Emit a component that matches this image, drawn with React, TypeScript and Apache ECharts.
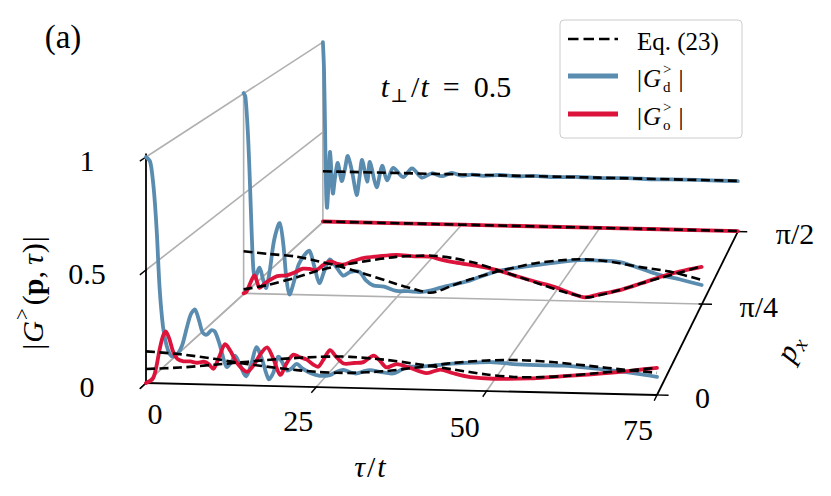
import React, { useEffect, useRef } from "react";
import * as echarts from "echarts";

// ---------- ticks ----------
const TAU_TICKS = [0, 25, 50, 75];
const TAU_TICK_LABELS = ["0", "25", "50", "75"];
const G_TICKS = [0, 0.5, 1];
const G_TICK_LABELS = ["0", "0.5", "1"];
const P_TICKS = [0, Math.PI / 4, Math.PI / 2];
const P_TICK_LABELS = ["0", "π/4", "π/2"];

// ---------- slices (p_x values) ----------
const P_FRONT = 0;
const P_MID = Math.PI / 4;
const P_BACK = Math.PI / 2;

// ---------- data: [tau/t, |G|] ----------
const FRONT_D = [
  [0, 1], [0.6, 0.98], [1, 0.9], [1.3, 0.8], [1.6, 0.66], [2, 0.42], [2.5, 0.25], [3, 0.17],
  [3.5, 0.13], [4, 0.12], [4.6, 0.13], [5.3, 0.17], [6, 0.25], [6.6, 0.31], [7.2, 0.33],
  [7.8, 0.28], [8.3, 0.23], [8.9, 0.22], [9.6, 0.24], [10.1, 0.235], [10.8, 0.18], [11.8, 0.08],
  [12.5, 0.1], [13.1, 0.13], [13.8, 0.09], [14.7, 0.04], [15.5, 0.1], [16.2, 0.17], [17, 0.12],
  [18, 0.03], [18.7, 0.06], [19.4, 0.13], [20.1, 0.1], [20.7, 0.07], [21.4, 0.08], [22.1, 0.1],
  [23, 0.08], [24.2, 0.06], [25.5, 0.05], [27, 0.054], [28, 0.07], [29, 0.078], [30, 0.068],
  [30.9, 0.064], [32, 0.075], [32.9, 0.08], [34.3, 0.074], [36.3, 0.068], [38.3, 0.098],
  [40, 0.1], [41.7, 0.105], [44.1, 0.115], [48, 0.124], [51, 0.128], [53.9, 0.122],
  [57.5, 0.12], [61.3, 0.12], [65, 0.113], [68.6, 0.103], [72, 0.092], [75, 0.08],
];
const FRONT_O = [
  [0, 0], [1, 0.02], [1.5, 0.07], [2, 0.15], [2.5, 0.21], [2.9, 0.23], [3.4, 0.2], [4, 0.14],
  [4.6, 0.11], [5.5, 0.1], [6.5, 0.1], [7.5, 0.095], [8.5, 0.1], [9.2, 0.09], [9.9, 0.07],
  [10.7, 0.12], [11.6, 0.18], [12.4, 0.15], [13.3, 0.1], [14.8, 0.06], [15.8, 0.09],
  [16.8, 0.14], [17.8, 0.17], [18.7, 0.12], [19.7, 0.05], [20.6, 0.1], [21.6, 0.14],
  [22.6, 0.13], [23.6, 0.12], [24.5, 0.1], [25.3, 0.09], [26.2, 0.13], [27, 0.165],
  [27.8, 0.14], [29, 0.107], [30.5, 0.11], [31.9, 0.115], [33.4, 0.145], [34.4, 0.12],
  [35.3, 0.094], [36.8, 0.11], [38.7, 0.095], [41.2, 0.073], [43.2, 0.09], [45.1, 0.075],
  [47.6, 0.06], [51, 0.055], [56.4, 0.06], [60, 0.07], [63.7, 0.08], [67, 0.09], [70, 0.1],
  [72.5, 0.11], [75, 0.12],
];
const FRONT_FIT_D = [
  [0, 0.14], [5, 0.131], [10, 0.114], [15, 0.094], [20, 0.078], [25, 0.067], [28, 0.065],
  [30, 0.066], [35, 0.077], [40, 0.098], [45, 0.12], [50, 0.135], [55, 0.14], [60, 0.134],
  [65, 0.122], [70, 0.109], [75, 0.098],
];
const FRONT_FIT_O = [
  [0, 0.062], [5, 0.072], [10, 0.088], [15, 0.105], [20, 0.121], [25, 0.133], [28, 0.137],
  [30, 0.137], [35, 0.128], [40, 0.111], [45, 0.092], [50, 0.073], [54, 0.065], [58, 0.067],
  [62, 0.076], [66, 0.09], [70, 0.103], [75, 0.12],
];

const MID_D = [
  [0, 1], [0.3, 0.98], [0.7, 0.8], [1, 0.58], [1.3, 0.32], [1.6, 0.12], [1.9, 0.08], [2.6, 0.13],
  [3.2, 0.07], [3.7, 0.03], [4.3, 0.12], [5, 0.27], [5.9, 0.355], [6.5, 0.25], [7, 0.08],
  [7.5, 0], [8.2, 0.06], [9, 0.15], [10, 0.2], [10.8, 0.22], [11.6, 0.14], [12.4, 0.06],
  [13.2, 0.12], [14.1, 0.18], [15, 0.15], [16.3, 0.1], [17.5, 0.12], [19, 0.12], [20, 0.08],
  [21.2, 0.055], [23, 0.05], [25, 0.03], [27, 0.03], [28.9, 0.027], [30.5, 0.035],
  [32.1, 0.05], [34.5, 0.07], [37, 0.09], [41.5, 0.14], [46.9, 0.17], [50, 0.185], [55, 0.205],
  [58, 0.205], [61.6, 0.2], [65, 0.17], [68.2, 0.14], [71.5, 0.12], [75, 0.095],
];
const MID_O = [
  [0, 0], [0.5, 0.01], [1.2, 0.06], [1.8, 0.09], [2.6, 0.03], [3.4, 0.05], [4.3, 0.07],
  [5.5, 0.09], [7, 0.095], [8.3, 0.11], [9.7, 0.13], [10.8, 0.13], [11.9, 0.125], [13, 0.15],
  [14.1, 0.17], [15.2, 0.16], [16.3, 0.155], [18, 0.175], [19.6, 0.19], [22, 0.2], [25, 0.21],
  [28, 0.205], [30.5, 0.205], [32.5, 0.19], [34.3, 0.18], [38, 0.165], [41.5, 0.145],
  [45, 0.115], [48, 0.09], [50.7, 0.07], [53.5, 0.04], [55.9, 0.02], [58, 0.035], [61.6, 0.06],
  [65, 0.095], [68.2, 0.13], [71.5, 0.16], [75, 0.185],
];
const MID_FIT_D = [
  [0, 0.21], [4, 0.2], [8.6, 0.19], [12, 0.17], [15.5, 0.148], [20, 0.11], [25, 0.065],
  [28, 0.04], [30.5, 0.025], [32, 0.035], [34.3, 0.065], [37, 0.095], [41.5, 0.138],
  [45, 0.165], [48, 0.186], [52, 0.202], [55, 0.209], [58, 0.207], [61.6, 0.194], [65, 0.177],
  [69.8, 0.158], [75, 0.12],
];
const MID_FIT_O = [
  [0, 0.02], [4, 0.045], [8.6, 0.085], [12, 0.12], [15.5, 0.148], [20, 0.175], [25, 0.2],
  [28.9, 0.208], [31, 0.21], [34.3, 0.2], [38, 0.178], [41.5, 0.146], [45, 0.115], [49, 0.076],
  [53, 0.04], [56.2, 0.02], [58, 0.03], [61.6, 0.06], [65, 0.095], [68.2, 0.125],
  [71.5, 0.155], [75, 0.188],
];

const BACK_D = [
  [0, 1], [0.2, 0.85], [0.4, 0.5], [0.6, 0.15], [0.75, 0.08], [1, 0.2], [1.3, 0.39],
  [1.8, 0.16], [2.2, 0.25], [2.7, 0.33], [3.4, 0.23], [4, 0.3], [4.5, 0.37], [5.3, 0.28],
  [6.1, 0.155], [6.6, 0.25], [7.1, 0.35], [8, 0.23], [8.5, 0.34], [9.7, 0.2], [10.7, 0.32],
  [11.6, 0.24], [12.7, 0.31], [14.5, 0.26], [16.1, 0.31], [17.9, 0.26], [19.7, 0.285],
  [21.5, 0.27], [23.3, 0.29], [25, 0.276], [27, 0.283], [29, 0.277], [32, 0.284], [35, 0.279],
  [38, 0.284], [42, 0.279], [46, 0.283], [50, 0.28], [55, 0.283], [60, 0.28], [65, 0.282],
  [70, 0.281], [75, 0.28],
];
const BACK_O = [[0, 0.003], [25, 0.003], [50, 0.003], [75, 0.003]];
const BACK_FIT_D = [[0, 0.282], [25, 0.282], [50, 0.282], [75, 0.282]];
const BACK_FIT_O = [[0, 0.003], [25, 0.003], [50, 0.003], [75, 0.003]];

// ---------- styles / layout ----------
const FONT = '"Liberation Serif", "DejaVu Serif", serif';
const BLUE = "#5a8cb0";
const RED = "#dc143c";
const GRAY = "#b0b0b0";
const GRID = { left: 146, top: 157, width: 511, height: 226 };
const TILT = 12 / 511;
const VPX = 1087;
const VPY = -406;
const KX = 0.2315;
const KY = 0.2563;
const P_MAX = Math.PI / 2;
const TAU_LABEL_DX = [9, -18, -22, -19];
const TAU_LABEL_DY = [30, 33, 35, 34];

function project(api: any, tau: number, g: number, p: number) {
  const c = api.coord([tau, g]);
  const u = p / P_MAX;
  const fx = c[0];
  const fy = c[1] + (c[0] - GRID.left) * TILT;
  const sx = 1 / (1 + KX * u);
  const sy = 1 / (1 + KY * u);
  return [VPX + (fx - VPX) * sx, VPY + (fy - VPY) * sy];
}

let measureCtx: any = null;
function measure(t: string, size: number, italic?: boolean, bold?: boolean) {
  if (!measureCtx && typeof document !== "undefined") {
    measureCtx = document.createElement("canvas").getContext("2d");
  }
  if (!measureCtx) return t.length * size * 0.5;
  measureCtx.font = `${italic ? "italic " : ""}${bold ? "bold " : ""}${size}px ${FONT}`;
  return measureCtx.measureText(t).width;
}

function textEl(t: string, x: number, y: number, size: number, opts: any = {}) {
  const align = opts.align || "left";
  return {
    type: "text",
    x,
    y,
    silent: true,
    style: {
      text: t,
      fill: "#000",
      fontSize: size,
      fontFamily: FONT,
      fontStyle: opts.italic ? "italic" : "normal",
      fontWeight: opts.bold ? "bold" : "normal",
      align,
      textAlign: align,
      verticalAlign: "middle",
      textVerticalAlign: "middle",
    },
  };
}

type Piece = { t?: string; s?: number; i?: boolean; b?: boolean; dy?: number; pre?: number; stack?: Piece[] };
function runChildren(pieces: Piece[], anchor: "center" | "left") {
  let x = 0;
  const items: any[] = [];
  for (const pc of pieces) {
    x += pc.pre || 0;
    if (pc.stack) {
      let w = 0;
      for (const s of pc.stack) {
        items.push({ ...s, x });
        w = Math.max(w, measure(s.t as string, s.s as number, s.i, s.b));
      }
      x += w;
    } else {
      items.push({ ...pc, x });
      x += measure(pc.t as string, pc.s as number, pc.i, pc.b);
    }
  }
  const off = anchor === "center" ? -x / 2 : 0;
  return items.map((it) => textEl(it.t, it.x + off, it.dy || 0, it.s, { italic: it.i, bold: it.b }));
}

function lineEl(a: number[], b: number[], stroke: string, lineWidth: number) {
  return {
    type: "line",
    silent: true,
    shape: { x1: a[0], y1: a[1], x2: b[0], y2: b[1] },
    style: { stroke, lineWidth, fill: null },
  };
}

function renderGrid(params: any, api: any) {
  const P = (t: number, g: number, p: number) => project(api, t, g, p);
  const ch: any[] = [];
  // wall at tau = 0
  P_TICKS.forEach((p) => { if (p > 0) ch.push(lineEl(P(0, 0, p), P(0, 1, p), GRAY, 1.6)); });
  G_TICKS.forEach((g) => ch.push(lineEl(P(0, g, 0), P(0, g, P_MAX), GRAY, 1.6)));
  // floor
  TAU_TICKS.forEach((t) => { if (t < 75) ch.push(lineEl(P(t, 0, 0), P(t, 0, P_MAX), GRAY, 1.6)); });
  P_TICKS.forEach((p) => { if (p > 0) ch.push(lineEl(P(0, 0, p), P(75, 0, p), GRAY, 1.6)); });
  return { type: "group", children: ch };
}

function renderAxes(params: any, api: any) {
  const P = (t: number, g: number, p: number) => project(api, t, g, p);
  const ch: any[] = [];
  ch.push(lineEl(P(0, 0, 0), P(0, 1.015, 0), "#000", 1.8));
  ch.push(lineEl(P(0, 0, 0), P(75, 0, 0), "#000", 1.8));
  ch.push(lineEl(P(75, 0, 0), P(75, 0, P_MAX), "#000", 1.8));
  G_TICKS.forEach((g, i) => {
    ch.push(lineEl(P(0, g, -0.028 * P_MAX), P(0, g, 0.004 * P_MAX), "#000", 1.4));
    const c = P(0, g, 0);
    ch.push(textEl(G_TICK_LABELS[i], c[0] - 59, c[1] + 3, 30, { align: "center" }));
  });
  TAU_TICKS.forEach((t, i) => {
    ch.push(lineEl(P(t, 0, -0.028 * P_MAX), P(t, 0, 0.004 * P_MAX), "#000", 1.4));
    const c = P(t, 0, 0);
    ch.push(textEl(TAU_TICK_LABELS[i], c[0] + TAU_LABEL_DX[i], c[1] + TAU_LABEL_DY[i], 30, { align: "center" }));
  });
  P_TICKS.forEach((p, i) => {
    ch.push(lineEl(P(74.5, 0, p), P(76.7, 0, p), "#000", 1.4));
    const c = P(75, 0, p);
    ch.push(textEl(P_TICK_LABELS[i], c[0] + 38, c[1] + 2, 30, { align: "left" }));
  });
  return { type: "group", children: ch };
}

function curveSeries(name: string, data: number[][], p: number, kind: "d" | "o" | "fit") {
  const style: any =
    kind === "fit"
      ? { stroke: "#000", lineWidth: 2.6, lineDash: [9, 4.5], fill: null, lineJoin: "round" }
      : { stroke: kind === "d" ? BLUE : RED, lineWidth: 3.8, fill: null, lineJoin: "round", lineCap: "round" };
  return {
    type: "custom",
    name,
    coordinateSystem: "cartesian2d",
    clip: false,
    silent: true,
    data,
    renderItem: (params: any, api: any) => {
      if (params.dataIndex !== 0) return null;
      return {
        type: "polyline",
        silent: true,
        shape: { points: data.map(([t, g]) => project(api, t, g, p)), smooth: 0.3 },
        style,
      };
    },
  };
}

function buildOption() {
  const series: any[] = [
    { type: "custom", name: "grid", coordinateSystem: "cartesian2d", clip: false, silent: true, data: [[0, 0]], renderItem: renderGrid },
    { type: "custom", name: "axes", coordinateSystem: "cartesian2d", clip: false, silent: true, data: [[0, 0]], renderItem: renderAxes },
    curveSeries("back_d", BACK_D, P_BACK, "d"),
    curveSeries("back_o", BACK_O, P_BACK, "o"),
    curveSeries("back_fit_d", BACK_FIT_D, P_BACK, "fit"),
    curveSeries("back_fit_o", BACK_FIT_O, P_BACK, "fit"),
    curveSeries("mid_d", MID_D, P_MID, "d"),
    curveSeries("mid_o", MID_O, P_MID, "o"),
    curveSeries("mid_fit_d", MID_FIT_D, P_MID, "fit"),
    curveSeries("mid_fit_o", MID_FIT_O, P_MID, "fit"),
    curveSeries("front_d", FRONT_D, P_FRONT, "d"),
    curveSeries("front_o", FRONT_O, P_FRONT, "o"),
    curveSeries("front_fit_d", FRONT_FIT_D, P_FRONT, "fit"),
    curveSeries("front_fit_o", FRONT_FIT_O, P_FRONT, "fit"),
  ];

  const legendLabel = (y: number, sub: string) => ({
    type: "group",
    x: 637,
    y,
    children: runChildren(
      [
        { t: "|", s: 25 },
        { t: "G", s: 25, i: true, pre: 1 },
        { stack: [{ t: ">", s: 15, dy: -9 }, { t: sub, s: 15, dy: 9 }], pre: 2 },
        { t: "|", s: 25, pre: 7 },
      ],
      "left"
    ),
  });

  const graphic: any[] = [
    textEl("(a)", 63, 37, 33, { align: "center" }),
    {
      type: "group",
      x: 446,
      y: 86,
      children: runChildren(
        [
          { t: "t", s: 30, i: true },
          { t: "⊥", s: 19, dy: 9, pre: 1 },
          { t: "/", s: 30, pre: 3 },
          { t: "t", s: 30, i: true, pre: 1 },
          { t: "=", s: 30, pre: 14 },
          { t: "0.5", s: 30, pre: 14 },
        ],
        "center"
      ),
    },
    {
      type: "group",
      x: 370,
      y: 466,
      children: runChildren(
        [
          { t: "τ", s: 30, i: true },
          { t: "/", s: 30, pre: 2 },
          { t: "t", s: 30, i: true, pre: 2 },
        ],
        "center"
      ),
    },
    {
      type: "group",
      x: 32,
      y: 293,
      rotation: Math.PI / 2,
      children: runChildren(
        [
          { t: "|", s: 30 },
          { t: "G", s: 30, i: true, pre: 1 },
          { t: ">", s: 21, dy: -10, pre: 1 },
          { t: "(", s: 30, pre: 3 },
          { t: "p", s: 30, b: true },
          { t: ",", s: 30 },
          { t: "τ", s: 30, i: true, pre: 6 },
          { t: ")", s: 30, pre: 1 },
          { t: "|", s: 30, pre: 1 },
        ],
        "center"
      ),
    },
    {
      type: "group",
      x: 789,
      y: 348,
      rotation: 1.1,
      children: runChildren(
        [
          { t: "p", s: 30, i: true },
          { t: "x", s: 21, i: true, dy: 8, pre: 1 },
        ],
        "center"
      ),
    },
    // legend
    {
      type: "group",
      children: [
        {
          type: "rect",
          shape: { x: 560, y: 20, width: 182, height: 118, r: 4 },
          style: { fill: "#ffffff", stroke: "#cccccc", lineWidth: 1 },
        },
        { type: "line", shape: { x1: 568, y1: 39, x2: 618, y2: 39 }, style: { stroke: "#000", lineWidth: 2.6, lineDash: [10.5, 5] } },
        { type: "line", shape: { x1: 568, y1: 76, x2: 618, y2: 76 }, style: { stroke: BLUE, lineWidth: 4.8 } },
        { type: "line", shape: { x1: 568, y1: 114, x2: 618, y2: 114 }, style: { stroke: RED, lineWidth: 4.8 } },
        textEl("Eq. (23)", 637, 41, 25, { align: "left" }),
        legendLabel(78, "d"),
        legendLabel(116, "o"),
      ],
    },
  ];

  return {
    animation: false,
    backgroundColor: "#ffffff",
    grid: { left: GRID.left, top: GRID.top, width: GRID.width, height: GRID.height, show: false },
    xAxis: { type: "value", min: 0, max: 75, show: false },
    yAxis: { type: "value", min: 0, max: 1, show: false },
    series,
    graphic,
  };
}

export default function App() {
  const ref = useRef<HTMLDivElement>(null);
  useEffect(() => {
    if (!ref.current) return;
    const chart = echarts.init(ref.current, undefined, { renderer: "svg" });
    chart.setOption(buildOption() as any);
    return () => chart.dispose();
  }, []);
  return (
    <div
      ref={ref}
      style={{ position: "fixed", left: 0, top: 0, width: 831, height: 496, background: "#fff" }}
    />
  );
}
